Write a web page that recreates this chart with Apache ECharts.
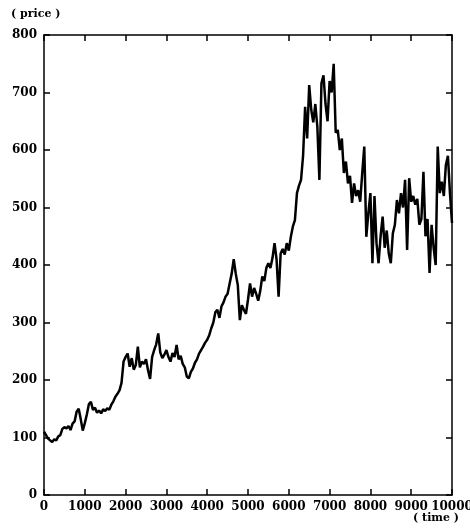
<!DOCTYPE html>
<html>
<head>
<meta charset="UTF-8">
<title>price</title>
<style>
  * { margin: 0; padding: 0; }
  #main { width: 470px; height: 529px; background: #fff; }
</style>
<script src="https://cdn.jsdelivr.net/npm/echarts@6/dist/echarts.min.js"></script>
</head>
<body>
<div id="main"></div>
<script>
// price, one value every 50 time units (0 .. 10000)
var step = 50;
var prices = [
  110, 104, 98, 95, 92, 97, 95, 102, 104, 115, 118, 116, 120, 113, 124, 128, 145, 150, 132, 112, 125,
  140, 158, 162, 148, 152, 143, 147, 142, 149, 146, 151, 148, 157, 163, 171, 176, 182, 195, 232, 240,
  246, 223, 238, 218, 226, 258, 222, 232, 228, 236, 217, 202, 240, 252, 262, 281, 248, 238, 244, 252,
  240, 232, 247, 240, 261, 236, 242, 228, 222, 206, 203, 214, 220, 230, 236, 246, 252, 258, 265, 270,
  278, 290, 300, 318, 322, 308, 328, 335, 345, 350, 368, 385, 410, 385, 365, 304, 330, 322, 315, 340,
  368, 345, 360, 350, 338, 355, 380, 372, 395, 403, 395, 412, 438, 410, 345, 420, 428, 418, 438, 425,
  449, 467, 478, 525, 538, 548, 590, 675, 620, 713, 670, 648, 680, 640, 548, 716, 730, 680, 650, 720,
  700, 750, 630, 635, 600, 620, 560, 580, 542, 555, 508, 542, 520, 530, 510, 560, 606, 449, 490, 525,
  403, 520, 438, 403, 450, 484, 430, 460, 420, 403, 455, 470, 513, 490, 525, 500, 548, 426, 551, 510,
  520, 505, 515, 470, 480, 562, 450, 480, 386, 470, 430, 400, 606, 525, 545, 520, 574, 590, 525, 473
];
var points = prices.map(function (p, i) { return [i * step, p]; });

var font = 'DejaVu Serif';
var labelStyle = { fontFamily: font, fontWeight: 'bold', fontSize: 12, color: '#000' };

function axis(type, min, max, interval, position, label) {
  return {
    type: type, min: min, max: max, interval: interval, position: position,
    axisLine: { show: true, onZero: false, lineStyle: { color: '#000', width: 1.5 } },
    axisTick: { show: true, inside: true, length: 6, interval: 0, lineStyle: { color: '#000', width: 1.5 } },
    splitLine: { show: false },
    axisLabel: label
  };
}

var myChart = echarts.init(document.getElementById('main'));
myChart.setOption({
  animation: false,
  backgroundColor: '#fff',
  title: [
    { text: '( price )', left: 6, top: 4, textStyle: { fontFamily: font, fontWeight: 'bold', fontSize: 11, color: '#000' } },
    { text: '( time )', right: 6, bottom: 0, textStyle: { fontFamily: font, fontWeight: 'bold', fontSize: 11, color: '#000' } }
  ],
  grid: { left: 44, right: 18, top: 35, bottom: 34, outerBoundsMode: 'none' },
  xAxis: [
    axis('value', 0, 10000, 1000, 'bottom',
      Object.assign({ margin: 6, formatter: function (v) { return String(v); } }, labelStyle)),
    axis('value', 0, 10000, 1000, 'top', { show: false })
  ],
  yAxis: [
    axis('value', 0, 800, 100, 'left', Object.assign({ margin: 7 }, labelStyle)),
    axis('value', 0, 800, 100, 'right', { show: false })
  ],
  series: [{
    type: 'line',
    data: points,
    showSymbol: false,
    symbol: 'none',
    lineStyle: { color: '#000', width: 2.5 }
  }, {
    // invisible series so the top and right axes get drawn with their ticks
    type: 'line',
    xAxisIndex: 1,
    yAxisIndex: 1,
    data: [[0, 0]],
    symbol: 'none',
    lineStyle: { opacity: 0 }
  }]
});
</script>
</body>
</html>
